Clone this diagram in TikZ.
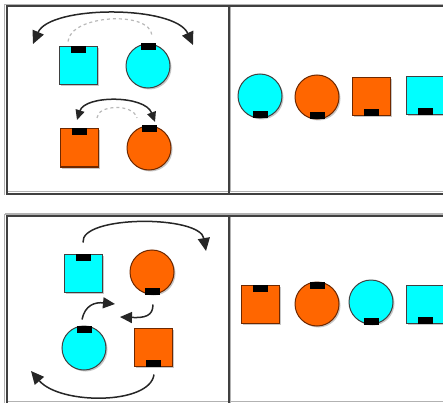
\documentclass[tikz,border=0pt]{standalone}
\usetikzlibrary{calc, arrows.meta, shadows}

\definecolor{cyanfill}{RGB}{0,255,255}
\definecolor{orangefill}{RGB}{255,102,0}
\definecolor{orangeline}{RGB}{110,40,0}

\begin{document}
\begin{tikzpicture}[x=1pt, y=-1pt,
  sq/.style={rectangle, minimum size=38pt, inner sep=0pt, line width=1pt,
    drop shadow={shadow xshift=1.5pt, shadow yshift=-1.5pt, fill=black!22, opacity=1}},
  rnd/.style={circle, minimum size=44pt, inner sep=0pt, line width=1pt,
    drop shadow={shadow xshift=1.5pt, shadow yshift=-1.5pt, fill=black!22, opacity=1}},
  cy/.style={fill=cyanfill, draw=black!75},
  og/.style={fill=orangefill, draw=orangeline},
  tab/.style={fill=black},
  arr/.style={line width=1.5pt, black!85},
  ghost/.style={line width=1.2pt, gray!55, dash pattern=on 3pt off 3pt},
  rule/.style={line width=2pt, black!75},
  rulelite/.style={line width=1.5pt, black!30}]
  \useasboundingbox (0,0) rectangle (443,403);

  % cell borders
  \draw[rulelite] (5,4.5) -- (443,4.5);
  \draw[rulelite] (4.5,4.5) -- (4.5,195);
  \draw[rulelite] (230.5,7) -- (230.5,192);
  \draw[rulelite] (8,191.5) -- (443,191.5);
  \draw[rule] (6,6.5) -- (443,6.5);
  \draw[rule] (6.5,6) -- (6.5,194.5);
  \draw[rule] (228.5,6) -- (228.5,194.5);
  \draw[rule] (6,193.5) -- (443,193.5);

  \draw[rulelite] (5,214) -- (443,214);
  \draw[rulelite] (4.5,214) -- (4.5,403);
  \draw[rulelite] (230.5,217) -- (230.5,403);
  \draw[rulelite] (8,401.5) -- (443,401.5);
  \draw[rule] (6,216) -- (443,216);
  \draw[rule] (6.5,215) -- (6.5,403);
  \draw[rule] (228.5,215) -- (228.5,403);

  % top panel, left cell
  \node[sq, cy]  (a) at (78,66)  {};
  \node[rnd, cy] (b) at (148,66) {};
  \node[sq, og]  (c) at (79,148) {};
  \node[rnd, og] (d) at (149,148) {};

  % top panel, right cell
  \node[rnd, cy] (r1) at (260,96) {};
  \node[rnd, og] (r2) at (317,97) {};
  \node[sq, og]  (r3) at (371,97) {};
  \node[sq, cy]  (r4) at (425,96) {};

  % bottom panel, left cell
  \node[sq, cy]  (e) at (83,273) {};
  \node[rnd, og] (f) at (152,272) {};
  \node[rnd, cy] (g) at (84,348) {};
  \node[sq, og]  (h) at (153,347) {};

  % bottom panel, right cell
  \node[sq, og]  (s1) at (260,304) {};
  \node[rnd, og] (s2) at (317,304) {};
  \node[rnd, cy] (s3) at (371,302) {};
  \node[sq, cy]  (s4) at (425,304) {};

  % tabs
  \foreach \n in {a,b,c,d,e,g,s1,s2}
    \fill[tab] ($(\n.north)+(-7.5,0)$) rectangle ++(15,7);
  \foreach \n in {r1,r2,r3,r4,f,h,s3,s4}
    \fill[tab] ($(\n.south)+(-7.5,0)$) rectangle ++(15,-7);

  % swap arrows, top panel
  \coordinate (tl) at (33,44);
  \coordinate (tr) at (193,45);
  \coordinate (ml) at (77,120);
  \coordinate (mr) at (155,122);
  \draw[arr, {Triangle[length=13pt,width=12pt]}-{Triangle[length=13pt,width=12pt]}]
    (tl) .. controls (50,5) and (175,5) .. (tr);
  \draw[ghost] ($(a.north)+(-10,-5)$) .. controls (70,15) and (150,10) .. ($(b.north)+(4,-8)$);
  \draw[arr, {Triangle[length=10pt,width=9pt]}-{Triangle[length=10pt,width=9pt]}]
    (ml) .. controls (85,95) and (145,95) .. (mr);
  \draw[ghost] (97,118) .. controls (97,105) and (133,103) .. (137,118);

  % rotate arrows, bottom panel
  \coordinate (p1) at (206,251);
  \coordinate (p2) at (115,304);
  \coordinate (p3) at (120,317);
  \coordinate (p4) at (31,371);
  \draw[arr, -{Triangle[length=13pt,width=12pt]}]
    ($(e.north)+(0,-11)$) .. controls (80,215) and (200,215) .. (p1);
  \draw[arr, -{Triangle[length=12pt,width=11pt]}]
    ($(g.north)+(-2,-6)$) .. controls (85,305) and (95,302) .. (p2);
  \draw[arr, -{Triangle[length=12pt,width=11pt]}]
    ($(f.south)+(1,10)$) .. controls (153,316) and (145,318) .. (p3);
  \draw[arr, -{Triangle[length=13pt,width=12pt]}]
    ($(h.south)+(1,8)$) .. controls (150,405) and (60,405) .. (p4);
\end{tikzpicture}
\end{document}
